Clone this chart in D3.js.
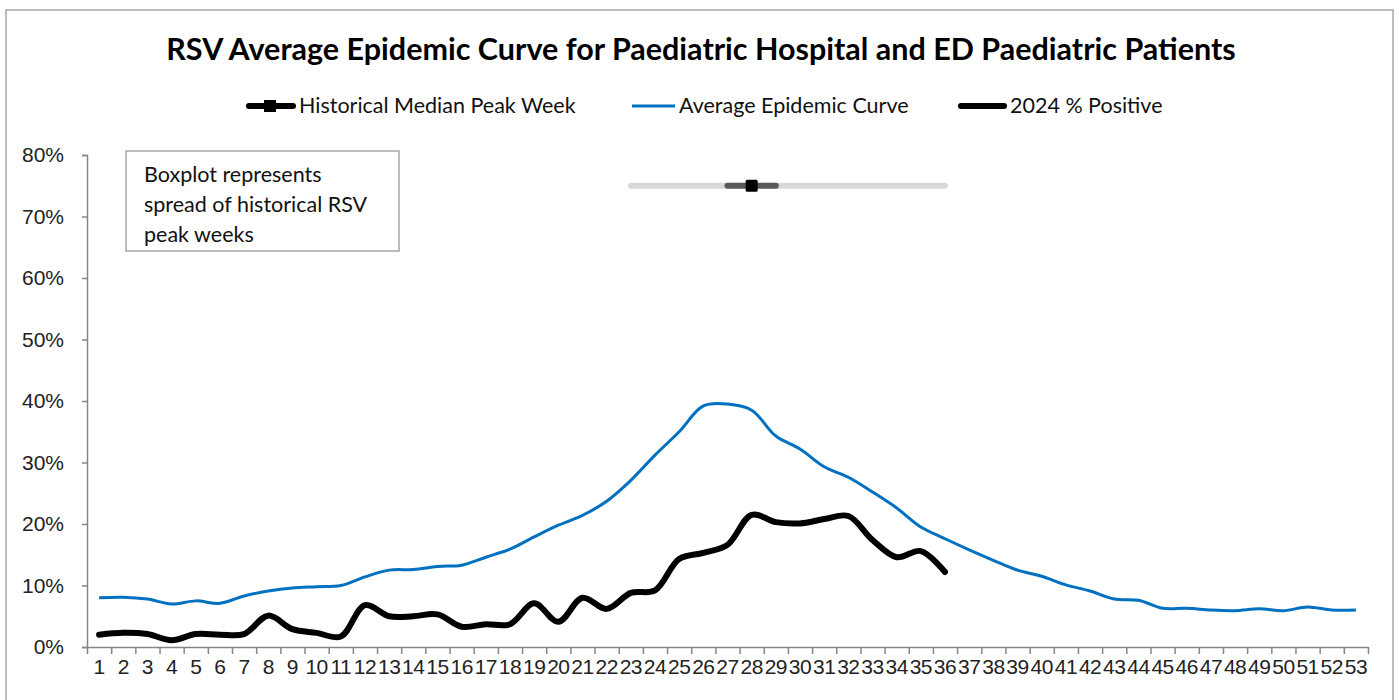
<!DOCTYPE html>
<html>
<head>
<meta charset="utf-8">
<script src="https://cdn.jsdelivr.net/npm/d3@7"></script>
<style>
  body { margin: 0; background: #fff; }
  svg { font-family: Lato, 'Open Sans', sans-serif; }
</style>
</head>
<body>
<script>
const W = 1399, H = 700;
const M = { left: 87, right: 1368, top: 155, bottom: 647 };

const weeks = d3.range(1, 54);
const avgCurve = [8.0, 8.1, 7.8, 7.0, 7.5, 7.1, 8.3, 9.1, 9.6, 9.8,
    10.0, 11.4, 12.5, 12.6, 13.1, 13.3, 14.6, 15.9, 17.9, 19.8,
    21.4, 23.7, 27.1, 31.2, 35.0, 39.2, 39.5, 38.5, 34.3, 32.2,
    29.3, 27.6, 25.2, 22.6, 19.5, 17.6, 15.8, 14.1, 12.5, 11.5,
    10.1, 9.1, 7.8, 7.6, 6.3, 6.3, 6.0, 5.9, 6.2, 5.9,
    6.5, 6.0, 6.0];
const pos2024 = [2.0, 2.3, 2.1, 1.1, 2.1, 2.0, 2.1, 5.1, 2.9, 2.3,
    1.7, 6.8, 5.0, 5.0, 5.3, 3.3, 3.7, 3.7, 7.1, 4.1,
    8.0, 6.2, 8.8, 9.2, 14.3, 15.3, 16.6, 21.5, 20.3, 20.1,
    20.8, 21.3, 17.4, 14.6, 15.6, 12.2];
// historical peak weeks boxplot: min, q1, median, q3, max, drawn at 75%
const peakWeeks = [23, 27, 28, 29, 36];
const peakLevel = 75;
const yTicks = [0, 10, 20, 30, 40, 50, 60, 70, 80];
const noteLines = ['Boxplot represents', 'spread of historical RSV', 'peak weeks'];

const svg = d3.select('body').append('svg').attr('width', W).attr('height', H);

// outer frame
svg.append('rect').attr('x', 6).attr('y', 10).attr('width', 1387).attr('height', 720)
    .attr('fill', 'none').attr('stroke', '#a6a6a6').attr('stroke-width', 1.5);

const x = d3.scaleBand().domain(weeks).range([M.left, M.right]);
const cx = w => x(w) + x.bandwidth() / 2;
const y = d3.scaleLinear().domain([0, 80]).range([M.bottom, M.top]);

// title
svg.append('text')
    .attr('x', 701).attr('y', 60)
    .attr('text-anchor', 'middle')
    .style('font-size', '30.5px').style('font-weight', 'bold')
    .text('RSV Average Epidemic Curve for Paediatric Hospital and ED Paediatric Patients');

// y axis
const yAxis = d3.axisLeft(y).tickValues(yTicks).tickSize(5).tickFormat(d => d + '%');
const gy = svg.append('g').attr('transform', `translate(${M.left},0)`).call(yAxis);
gy.select('.domain').attr('stroke', '#868686').attr('stroke-width', 1.5);
gy.selectAll('.tick line').attr('stroke', '#868686').attr('stroke-width', 1.5);
gy.selectAll('.tick text').attr('x', -23).attr('fill', '#222').style('font-size', '21px');

// x axis: labels at centres, ticks on category boundaries
const xAxis = d3.axisBottom(x).tickSize(0).tickPadding(12);
const gx = svg.append('g').attr('transform', `translate(0,${M.bottom})`).call(xAxis);
gx.select('.domain').remove();
gx.selectAll('.tick text').attr('fill', '#222').style('font-size', '21px').attr('letter-spacing', '-0.5');
const xb = d3.scaleLinear().domain([0, weeks.length]).range([M.left, M.right]);
const gxb = svg.append('g').attr('transform', `translate(0,${M.bottom})`)
    .call(d3.axisBottom(xb).tickValues(d3.range(0, weeks.length + 1)).tickSize(7).tickSizeOuter(0).tickFormat(''));
gxb.select('.domain').attr('stroke', '#868686').attr('stroke-width', 1.5);
gxb.selectAll('.tick line').attr('stroke', '#868686').attr('stroke-width', 1.5);

// lines
const line = d3.line().x(d => cx(d[0])).y(d => y(d[1])).curve(d3.curveCatmullRom.alpha(0.5));
svg.append('path').datum(weeks.map((w, i) => [w, avgCurve[i]]))
    .attr('d', line).attr('fill', 'none').attr('stroke', '#0070c0').attr('stroke-width', 3);
svg.append('path').datum(pos2024.map((v, i) => [weeks[i], v]))
    .attr('d', line).attr('fill', 'none').attr('stroke', '#000').attr('stroke-width', 6)
    .attr('stroke-linecap', 'round').attr('stroke-linejoin', 'round');

// boxplot of historical peak weeks
const [wMin, q1, med, q3, wMax] = peakWeeks;
svg.append('line').attr('x1', cx(wMin)).attr('x2', cx(wMax)).attr('y1', y(peakLevel)).attr('y2', y(peakLevel))
    .attr('stroke', '#d9d9d9').attr('stroke-width', 6).attr('stroke-linecap', 'round');
svg.append('line').attr('x1', cx(q1)).attr('x2', cx(q3)).attr('y1', y(peakLevel)).attr('y2', y(peakLevel))
    .attr('stroke', '#595959').attr('stroke-width', 6).attr('stroke-linecap', 'round');
svg.append('rect').attr('x', cx(med) - 6).attr('y', y(peakLevel) - 6).attr('width', 12).attr('height', 12)
    .attr('rx', 1.5).attr('fill', '#000');

// note box
svg.append('rect').attr('x', 126).attr('y', 151).attr('width', 273).attr('height', 100)
    .attr('fill', '#fff').attr('stroke', '#a6a6a6').attr('stroke-width', 1.5);
svg.append('g').selectAll('text').data(noteLines).join('text')
    .attr('x', 144).attr('y', (d, i) => 182 + i * 30)
    .attr('fill', '#111').style('font-size', '21.5px').text(d => d);

// legend
const lg = svg.append('g').style('font-size', '21.5px');
lg.append('line').attr('x1', 249).attr('x2', 293).attr('y1', 106).attr('y2', 106)
    .attr('stroke', '#000').attr('stroke-width', 6).attr('stroke-linecap', 'round');
lg.append('rect').attr('x', 264).attr('y', 100).attr('width', 12).attr('height', 12).attr('fill', '#000');
lg.append('text').attr('x', 299).attr('y', 113).attr('fill', '#111').text('Historical Median Peak Week');
lg.append('line').attr('x1', 632).attr('x2', 675).attr('y1', 106).attr('y2', 106)
    .attr('stroke', '#0070c0').attr('stroke-width', 3);
lg.append('text').attr('x', 679).attr('y', 113).attr('fill', '#111').text('Average Epidemic Curve');
lg.append('line').attr('x1', 961).attr('x2', 1004).attr('y1', 106).attr('y2', 106)
    .attr('stroke', '#000').attr('stroke-width', 6).attr('stroke-linecap', 'round');
lg.append('text').attr('x', 1010).attr('y', 113).attr('fill', '#111').text('2024 % Positive');
</script>
</body>
</html>
